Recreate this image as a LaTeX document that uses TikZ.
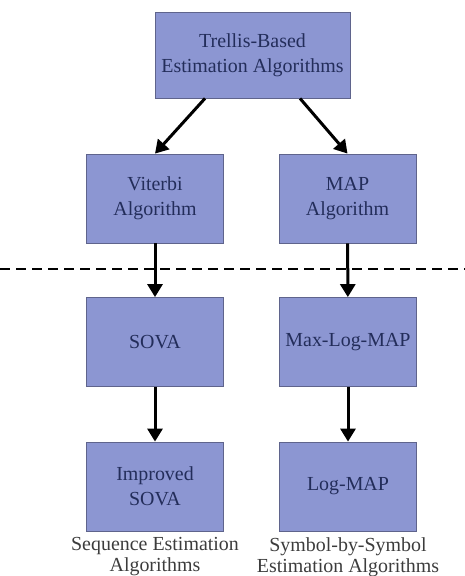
\documentclass[tikz,border=0pt]{standalone}
\usepackage{fontspec}
\setmainfont{Liberation Serif}
\usetikzlibrary{arrows.meta}
\definecolor{boxfill}{RGB}{140,150,210}
\definecolor{boxline}{RGB}{95,100,140}
\definecolor{boxtext}{RGB}{35,45,90}
\definecolor{captext}{RGB}{60,60,60}

\begin{document}
\begin{tikzpicture}[x=1bp,y=-1bp,>={Triangle[width=15bp,length=13bp]},
  algbox/.style={draw=boxline,fill=boxfill,text=boxtext,line width=0.8bp,
    minimum width=137bp,minimum height=89bp,align=center,inner sep=0pt,
    font=\fontsize{20}{25}\selectfont},
  flow/.style={->,line width=3bp,black},
  caption/.style={align=center,text=captext,font=\fontsize{20}{21}\selectfont}]
  \useasboundingbox (0,0) rectangle (465,576);
  % top of the tree
  \node[algbox,minimum width=195bp,minimum height=86bp] (trellis) at (252.5,55)
    {Trellis-Based\\Estimation Algorithms};
  \node[algbox] (viterbi) at (155,198.5) {Viterbi\\Algorithm};
  \node[algbox] (map)     at (347.5,198.5) {MAP\\Algorithm};
  % below the dashed line
  \node[algbox] (sova)    at (155,342) {SOVA};
  \node[algbox] (maxlog)  at (348,342) {Max-Log-MAP};
  \node[algbox] (isova)   at (155,486.5) {Improved\\SOVA};
  \node[algbox] (logmap)  at (348,486.5) {Log-MAP};
  \draw[line width=1.5bp,dash pattern=on 10bp off 6bp] (0,269) -- (465,269);
  \draw[flow] ([xshift=-47.5bp]trellis.south) -- (viterbi.north);
  \draw[flow] ([xshift=47.5bp]trellis.south) -- (map.north);
  \draw[flow] (viterbi) -- (sova);
  \draw[flow] (map) -- (maxlog);
  \draw[flow] (sova) -- (isova);
  \draw[flow] (maxlog) -- (logmap);
  \node[caption] (seqcap) at (155,557) {Sequence Estimation\\Algorithms};
  \node[caption] (symcap) at (348,557) {Symbol-by-Symbol\\Estimation Algorithms};
\end{tikzpicture}
\end{document}
